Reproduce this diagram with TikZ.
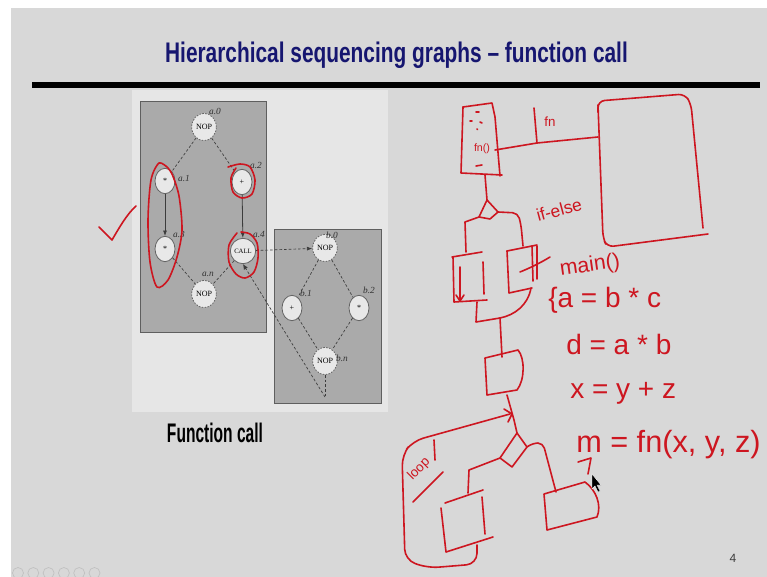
\documentclass[tikz,border=0pt]{standalone}
\usepackage{fontspec}
\setmainfont{Liberation Serif}
\setsansfont{Liberation Sans}
\usetikzlibrary{shapes.geometric,arrows.meta}
\definecolor{slide}{RGB}{216,216,216}
\definecolor{pagebg}{RGB}{230,230,230}
\definecolor{boxfill}{RGB}{170,170,170}
\definecolor{boxline}{RGB}{95,95,95}
\definecolor{nodefill}{RGB}{232,232,232}
\definecolor{nodeline}{RGB}{100,100,100}
\definecolor{edgecol}{RGB}{60,60,60}
\definecolor{lblcol}{RGB}{50,50,50}
\definecolor{navy}{RGB}{22,22,112}
\definecolor{ink}{RGB}{205,22,32}
\definecolor{navcol}{RGB}{192,192,192}
\tikzset{
  opnode/.style={ellipse, draw=nodeline, fill=nodefill, line width=0.6pt,
    minimum width=15pt, minimum height=19pt, inner sep=0pt,
    font=\fontsize{6}{7}\selectfont},
  nopnode/.style={opnode, dash pattern=on 1.2pt off 1pt,
    minimum width=18.5pt, minimum height=20.5pt},
  lbl/.style={font=\fontsize{7}{8}\selectfont\itshape, text=lblcol, inner sep=0pt},
  dep/.style={draw=edgecol, line width=0.5pt, dash pattern=on 2pt off 1.5pt},
  seq/.style={draw=edgecol, line width=0.6pt, -{Latex[length=4pt,width=3pt]}},
  inkline/.style={draw=ink, line width=1.2pt, line cap=round, line join=round},
  inktext/.style={text=ink, inner sep=0pt, font=\sffamily},
  gbox/.style={draw=boxline, fill=boxfill, line width=0.6pt}
}
\begin{document}
\begin{tikzpicture}[x=0.75pt,y=-0.75pt]
\useasboundingbox (0,0) rectangle (767,577);
% slide background
\fill[white] (0,0) rectangle (767,577);
\fill[slide] (11,8) rectangle (767,577);
% title and rule
\node[anchor=base, text=navy, inner sep=0pt] (title) at (396.5,62.7)
  {\resizebox{347pt}{15.4pt}{\sffamily\bfseries Hierarchical sequencing graphs -- function call}};
\fill[black] (32,82) rectangle (760,88);
% page image behind the figure
\fill[pagebg] (132,90) rectangle (388,412);
% graph boxes
\path[gbox] (140,101) rectangle (266,332);
\path[gbox] (274,229) rectangle (381,403);
% nodes
\node[nopnode] (a0) at (204,127) {NOP};
\node[opnode] (a1) at (165,181) {*};
\node[opnode] (a2) at (242,182) {+};
\node[opnode] (a3) at (165,249) {*};
\node[opnode, minimum width=19pt, font=\fontsize{5}{6}\selectfont] (a4) at (243,251) {CALL};
\node[nopnode] (an) at (204,294) {NOP};
\node[nopnode] (b0) at (325,248) {NOP};
\node[opnode] (b1) at (292,308) {+};
\node[opnode] (b2) at (359,308) {*};
\node[nopnode] (bn) at (325,361) {NOP};
\coordinate (ret) at (325,397);
% labels
\node[lbl] (la0) at (215,111) {a.0};
\node[lbl] (la1) at (184,178) {a.1};
\node[lbl] (la2) at (256,165) {a.2};
\node[lbl] (la3) at (179,234) {a.3};
\node[lbl] (la4) at (259,234) {a.4};
\node[lbl] (lan) at (208,274) {a.n};
\node[lbl] (lb0) at (332,235) {b.0};
\node[lbl] (lb1) at (306,293) {b.1};
\node[lbl] (lb2) at (369,290) {b.2};
\node[lbl] (lbn) at (342,358) {b.n};
% edges
\draw[dep] (a0) -- (a1);
\draw[dep] (a0) -- (a2);
\draw[seq] (a1) -- (a3);
\draw[seq] (a2) -- (a4);
\draw[dep] (a3) -- (an);
\draw[dep] (a4) -- (an);
\draw[dep, -{Latex[length=4pt,width=3pt]}] (a4) -- (b0);
\draw[dep] (b0) -- (b1);
\draw[dep] (b0) -- (b2);
\draw[dep] (b1) -- (bn);
\draw[dep] (b2) -- (bn);
\draw[dep] (bn) -- (ret);
\draw[dep, -{Latex[length=4pt,width=3.5pt]}] (ret) -- (a4.south);
% caption
\node[anchor=base, inner sep=0pt] (cap) at (215,442)
  {\resizebox{72pt}{14.6pt}{\sffamily\bfseries Function call}};
% page number
\node[anchor=base, inner sep=0pt, text={rgb,255:red,60;green,60;blue,60}, font=\sffamily\fontsize{9}{10}\selectfont] (pg) at (733,562) {4};
% navigation icons
\foreach \i in {0,...,5} {\draw[navcol, line width=0.5pt] (18+15.3*\i,573) circle (5.5);}
% ---------- red annotations ----------
% check mark
\draw[inkline] (99,227) -- (112,240) .. controls (119,228) and (127,214) .. (136,206);
% loop around a.1 / a.3
\draw[inkline] plot[smooth] coordinates {(168,168)(159,163)(151,180)(148,220)(150,262)(157,287)(168,280)(177,257)(182,230)(179,196)(172,174)(166,166)};
% circle around a.2
\draw[inkline] plot[smooth] coordinates {(228,167)(240,164)(250,167)(255,180)(252,194)(242,198)(233,192)(231,178)(236,168)};
% circle around CALL
\draw[inkline] plot[smooth] coordinates {(237,233)(229,245)(229,262)(236,274)(245,278)(254,272)(258,258)(257,243)(250,234)(241,232)};
% fn() box
\draw[inkline] (463,107) -- (492,103) -- (495,117) -- (500,176);
\draw[inkline] (463,107) -- (461,173) -- (502,175);
\draw[inkline] (476,112) -- (479,112);
\draw[inkline] (470,121) -- (472,121);
\draw[inkline] (480,122) -- (482,123);
\draw[inkline] (477,129) -- (477.5,129.5);
\draw[inkline] (476,166) -- (482,165);
\node[inktext, font=\sffamily\fontsize{8}{9}\selectfont] (tfn1) at (482,149) {fn()};
% call line and fn label
\draw[inkline] (495,150) -- (537,143) -- (598,137);
\draw[inkline] (534,108) -- (537,143);
\node[inktext, font=\sffamily\fontsize{10}{11}\selectfont] (tfn2) at (550,122) {fn};
% big function box
\draw[inkline, rounded corners=5pt] (598,112) -- (598,101) -- (685,94) -- (691,104) -- (703,228);
\draw[inkline, rounded corners=5pt] (708,234) -- (607,247) -- (603,238) -- (598,105);
% stem and fork (if-else)
\draw[inkline] (485,175) -- (487,200);
\draw[inkline] (487,200) -- (479,217) -- (490,219) -- (498,212) -- cycle;
\draw[inkline] (479,217) -- (465,222) -- (466,252);
\draw[inkline, rounded corners=4pt] (498,212) -- (518,213) -- (521,225) -- (523,246);
\node[inktext, rotate=15, font=\sffamily\fontsize{13}{14}\selectfont] (tif) at (559,210) {if-else};
% left box
\draw[inkline] (452,257) -- (482,252);
\draw[inkline] (453,257) -- (454,302) -- (487,300);
\draw[inkline] (483,262) -- (484,294);
\draw[inkline] (460,267) -- (460,300);
\draw[inkline] (456,295) -- (460,301) -- (464,295);
% right box
\draw[inkline] (507,251) -- (537,245);
\draw[inkline] (507,251) -- (509,293) -- (532,288);
\draw[inkline] (532,246) -- (533,281);
\draw[inkline] (537,246) -- (537,279);
\draw[inkline] (520,272) .. controls (530,268) and (542,262) .. (550,257);
% join
\draw[inkline] (477,302) -- (476,322) -- (500,318);
\draw[inkline] (531,288) .. controls (528,305) and (515,315) .. (500,318);
\draw[inkline] (500,318) -- (502,357);
% middle box
\draw[inkline] (485,358) -- (518,350) .. controls (525,358) and (525,380) .. (517,390) -- (487,395) -- cycle;
\draw[inkline] (507,395) -- (514,420) -- (517,433);
% loop
\draw[inkline, rounded corners=8pt] (477,545) -- (477,564) -- (428,568) -- (405,560) -- (402,455) -- (413,441) -- (510,414);
\draw[inkline] (504,409) -- (512,414) -- (508,422);
\draw[inkline] (434,440) -- (435,460);
\draw[inkline] (413,502) -- (443,472);
\node[inktext, rotate=45, font=\sffamily\fontsize{10}{11}\selectfont] (tloop) at (419,469) {loop};
% lower fork
\draw[inkline] (517,433) -- (500,458) -- (512,467) -- (527,447) -- cycle;
\draw[inkline] (500,458) -- (469,470) -- (468,493);
\draw[inkline, rounded corners=4pt] (527,447) -- (533,443) -- (543,443) -- (556,492);
% bottom-left box
\draw[inkline] (445,503) -- (483,490);
\draw[inkline] (441,508) -- (446,552) -- (493,537);
\draw[inkline] (482,497) -- (485,534);
% bottom-right box
\draw[inkline] (544,494) -- (585,482) .. controls (596,490) and (602,505) .. (597,517) -- (547,530) -- cycle;
% code text
\node[inktext, rotate=8, font=\sffamily\fontsize{16}{18}\selectfont] (tmain) at (590,266) {main()};
\node[inktext, anchor=base west, font=\sffamily\fontsize{21}{24}\selectfont] (t1) at (548,307) {\{a = b * c};
\node[inktext, anchor=base west, font=\sffamily\fontsize{21}{24}\selectfont] (t2) at (566,354) {d = a * b};
\node[inktext, anchor=base west, font=\sffamily\fontsize{21}{24}\selectfont] (t3) at (570,398) {x = y + z};
\node[inktext, anchor=base west, font=\sffamily\fontsize{23}{26}\selectfont] (t4) at (576,452) {m = fn(x, y, z)};
\draw[inkline] (578,462) -- (591,458) -- (588,474);
% mouse cursor
\filldraw[fill=black, draw=white, line width=0.3pt] (592,474) -- (592,489) -- (595,486) -- (598,492) -- (600,491) -- (597,485) -- (601,485) -- cycle;
\end{tikzpicture}
\end{document}
